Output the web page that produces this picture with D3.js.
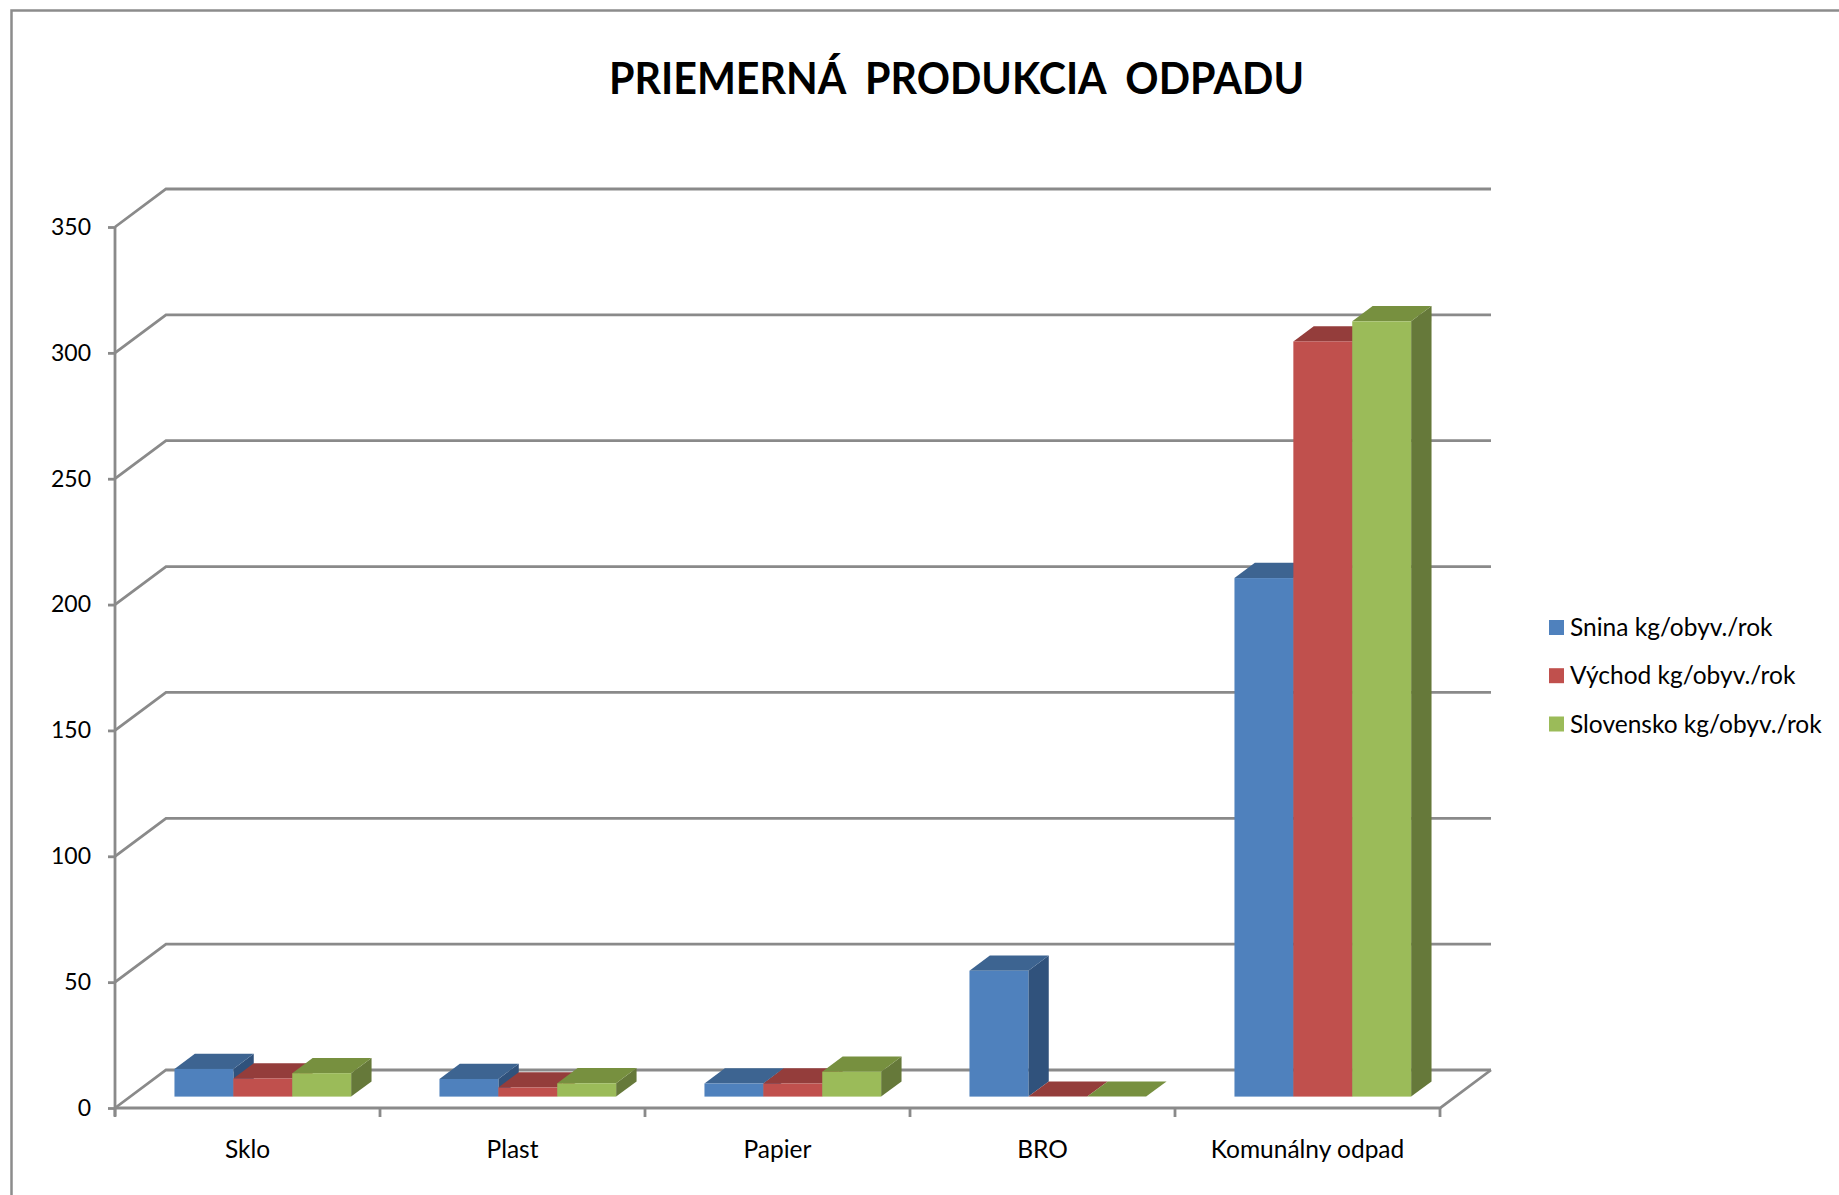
<!DOCTYPE html>
<html>
<head>
<meta charset="utf-8">
<script src="https://cdn.jsdelivr.net/npm/d3@7"></script>
<style>
  html, body { margin: 0; padding: 0; background: #ffffff; }
  svg { display: block; font-family: Lato, "Open Sans", sans-serif; }
</style>
</head>
<body>
<svg id="chart" width="1839" height="1195"></svg>
<script>
// ---- data ----
const titleText = "PRIEMERNÁ  PRODUKCIA  ODPADU";
const categories = ["Sklo", "Plast", "Papier", "BRO", "Komunálny odpad"];
const seriesNames = ["Snina kg/obyv./rok", "Východ kg/obyv./rok", "Slovensko kg/obyv./rok"];
const sninaValues = [11, 7, 5.2, 50, 206];
const vychodValues = [7.2, 3.6, 5.2, 0, 300];
const slovenskoValues = [9.3, 5.3, 9.9, 0, 308];
const yTickValues = [0, 50, 100, 150, 200, 250, 300, 350];
const frontColors = ["#4F81BD", "#C0504D", "#9BBB59"];
const topColors = ["#3D6491", "#943D3B", "#77903F"];
const sideColors = ["#30527C", "#873633", "#66793A"];

const seriesValues = [sninaValues, vychodValues, slovenskoValues];

(function () {
// ---- layout ----
const svg = d3.select("#chart");
const plotLeft = 115, plotRight = 1440, plotBottom = 1108, plotTop = 227;
const depthX = 51, depthY = 38;       // floor depth
const barF0 = 0.3, barF1 = 0.7;       // bar depth fraction
const gridColor = "#8a8a8a";
const gridWidth = 2.8;

const y = d3.scaleLinear().domain([0, 350]).range([plotBottom, plotTop]);
const x0 = d3.scaleBand().domain(categories).range([plotLeft, plotRight]).paddingInner(0).paddingOuter(0);
const x1 = d3.scaleBand().domain(d3.range(seriesNames.length)).range([0, x0.bandwidth()]).paddingInner(0).paddingOuter(0.75);

// chart border
svg.append("rect")
  .attr("x", 11.5).attr("y", 10.5).attr("width", 1900).attr("height", 1300)
  .attr("fill", "none").attr("stroke", "#8c8c8c").attr("stroke-width", 2.5);

// title
svg.append("text")
  .attr("x", 956.5).attr("y", 94)
  .attr("text-anchor", "middle")
  .style("white-space", "pre")
  .attr("font-size", 43).attr("font-weight", "bold").attr("fill", "#000")
  .attr("textLength", 695).attr("lengthAdjust", "spacingAndGlyphs")
  .text(titleText);

// gridlines (side wall diagonals + back wall)
const grid = svg.append("g").attr("stroke", gridColor).attr("stroke-width", gridWidth).attr("fill", "none");
yTickValues.forEach(v => {
  const yy = y(v);
  grid.append("path").attr("d", `M${plotLeft},${yy}L${plotLeft + depthX},${yy - depthY}L${plotRight + depthX},${yy - depthY}`);
});
// floor front edge and right edge
grid.append("path").attr("d", `M${plotLeft},${plotBottom}L${plotRight},${plotBottom}L${plotRight + depthX},${plotBottom - depthY}`);
// vertical axis line
grid.append("line").attr("x1", plotLeft).attr("x2", plotLeft).attr("y1", y(350)).attr("y2", plotBottom + 8);

// y axis ticks and labels
const yAxis = d3.axisLeft(y).tickValues(yTickValues).tickSize(7).tickPadding(17).tickFormat(d3.format("d"));
const yg = svg.append("g").attr("transform", `translate(${plotLeft},0)`).call(yAxis);
yg.select(".domain").remove();
yg.selectAll(".tick line").attr("stroke", gridColor).attr("stroke-width", gridWidth);
yg.selectAll(".tick text").attr("font-size", 23).attr("fill", "#000").attr("font-family", "Lato, sans-serif");

// category ticks at boundaries
const bounds = categories.map(c => x0(c)).concat([plotRight]);
svg.append("g").selectAll("line").data(bounds).join("line")
  .attr("x1", d => d).attr("x2", d => d)
  .attr("y1", plotBottom).attr("y2", plotBottom + 9)
  .attr("stroke", gridColor).attr("stroke-width", gridWidth);

// category labels
const xAxis = d3.axisBottom(x0).tickSize(0).tickPadding(33);
const xg = svg.append("g").attr("transform", `translate(0,${plotBottom})`).call(xAxis);
xg.select(".domain").remove();
xg.selectAll(".tick line").remove();
xg.selectAll(".tick text").attr("font-size", 24.5).attr("fill", "#000").attr("font-family", "Lato, sans-serif");

// bars (3D columns)
const bars = svg.append("g");
const ox = depthX * barF0, oy = depthY * barF0;
const ddx = depthX * (barF1 - barF0), ddy = depthY * (barF1 - barF0);
categories.forEach((c, ci) => {
  seriesValues.forEach((vals, si) => {
    const v = vals[ci];
    const xl = x0(c) + x1(si) + ox;
    const w = x1.bandwidth();
    const yb = plotBottom - oy;
    const yt = yb - (y(0) - y(v));
    // side face
    bars.append("path")
      .attr("d", `M${xl + w},${yt}L${xl + w + ddx},${yt - ddy}L${xl + w + ddx},${yb - ddy}L${xl + w},${yb}Z`)
      .attr("fill", sideColors[si]);
    // top face
    bars.append("path")
      .attr("d", `M${xl},${yt}L${xl + ddx},${yt - ddy}L${xl + w + ddx},${yt - ddy}L${xl + w},${yt}Z`)
      .attr("fill", topColors[si]);
    // front face
    bars.append("rect")
      .attr("x", xl).attr("y", yt).attr("width", w).attr("height", yb - yt)
      .attr("fill", frontColors[si]);
  });
});

// legend
const legend = svg.append("g");
const legendY = [627.5, 675.7, 724];
seriesNames.forEach((name, i) => {
  legend.append("rect")
    .attr("x", 1549).attr("y", legendY[i] - 7.5).attr("width", 15).attr("height", 15)
    .attr("fill", frontColors[i]);
  legend.append("text")
    .attr("x", 1570).attr("y", legendY[i] + 8.5)
    .attr("font-size", 24.5).attr("fill", "#000")
    .text(name);
});
})();
</script>
</body>
</html>
